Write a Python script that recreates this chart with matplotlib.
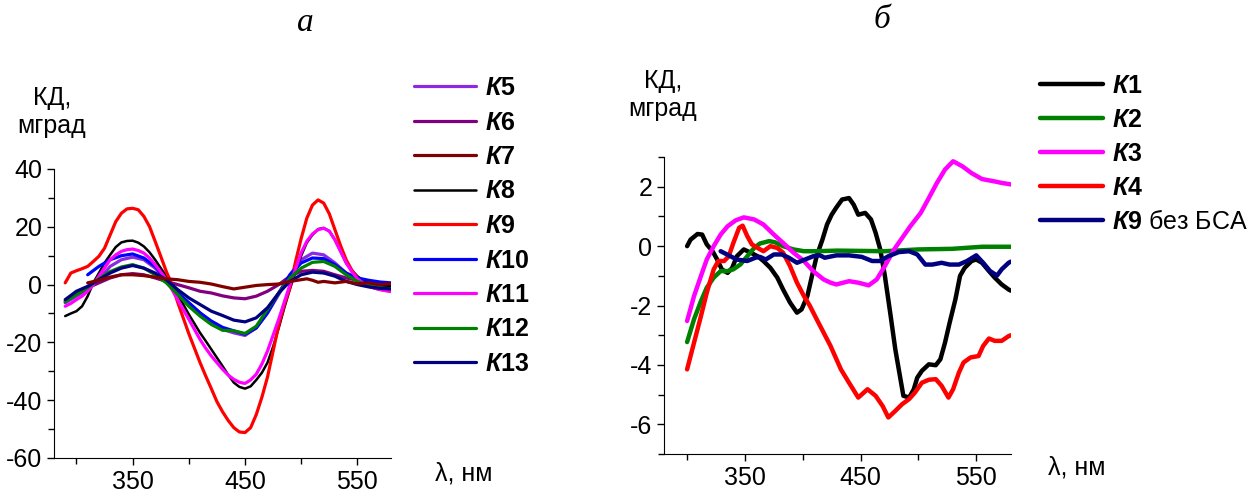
import matplotlib
matplotlib.use('Agg')
import matplotlib.pyplot as plt
from matplotlib.ticker import MultipleLocator, FixedLocator

plt.rcParams['font.family'] = ['Liberation Sans', 'DejaVu Sans']
plt.rcParams['axes.unicode_minus'] = False
plt.rcParams['mathtext.fontset'] = 'custom'
plt.rcParams['mathtext.rm'] = 'Liberation Sans'
plt.rcParams['mathtext.bf'] = 'Liberation Sans:bold'
plt.rcParams['mathtext.it'] = 'Liberation Sans:italic'
plt.rcParams['mathtext.bfit'] = 'Liberation Sans:italic:bold'

# ---- panel a ----
# big curves read every 5 nm, 290..580 (59 points, 11 per row)
wl_5 = list(range(290, 585, 5))
k9 = [0.6, 4, 4.8, 5.5, 6.3, 8, 9.8, 12.6, 17.2, 21.8, 24.7,
      26.2, 26.4, 25.9, 23.6, 20.1, 15, 9.8, 4.5, 0, -6, -11.5,
      -17, -22, -27, -31.6, -36, -40.5, -44, -47, -49.5, -51, -51.2,
      -49.5, -45, -39, -32, -23, -14, -7, -1, 8, 16, 23,
      27.5, 29.3, 28.2, 24.5, 19, 13.5, 8.6, 5, 2.3, 0.6, -0.6,
      -1.2, -1.7, -2, -2.3]
k8 = [-10.9, -10, -9.2, -7.5, -4, 0.6, 4, 7.5, 10.3, 13, 14.6,
      15.1, 15.2, 14.5, 13.2, 11.2, 8.6, 5.7, 2.9, -0.3, -3.4, -6.8,
      -10.3, -13.5, -16.7, -19.5, -22.4, -25.3, -28.2, -31.2, -33.9, -35.4, -36,
      -35.2, -33, -30.5, -27, -21.5, -15, -8, -1.5, 4.5, 10, 14.5,
      17.2, 19.2, 19.6, 18.5, 15.5, 11.5, 7.5, 5, 2.9, 1.5, 0.6,
      0, -0.3, -0.5, -0.6]
k11 = [-7.5, -6.5, -5.2, -4, -2.3, 0, 2.9, 5.8, 8.6, 10.3, 11.5,
       12.1, 12.3, 11.8, 10.9, 9.2, 6.9, 4.4, 1.7, -1.7, -5.2, -8.6,
       -12, -15.5, -19, -22, -24.7, -27, -29.3, -31.3, -32.8, -33.8, -34.2,
       -33, -31, -27.5, -23, -17.5, -12, -6, 0, 5.5, 11, 15,
       17.5, 19, 19.5, 18.5, 15.5, 11.5, 7.5, 4.5, 2, 0.5, -0.5,
       -1.2, -1.7, -2.1, -2.4]
# smaller curves every 10 nm, 290..580
wl_a = list(range(290, 590, 10))
k5 = [-6.3, -4, -1.7, 1.7, 6.3, 8.6, 9.5, 8.6, 5.7, 1.7, -2.9, -6.3, -9.8, -13.2, -15.5, -16.7,
      -17.6, -15, -9.8, -3.4, 3.4, 8.6, 10.9, 10.3, 7.5, 4, 1.7, 0, -1.1, -1.7]
k6 = [-5.7, -3.4, -1.1, 0.6, 2.3, 3.4, 3.8, 3.4, 2.3, 1.1, 0, -1.1, -2.3, -2.9, -3.9, -4.6, -4.9,
      -4, -2.3, 0, 2.9, 4.6, 4.9, 4.6, 3.4, 2.3, 1.5, 0.8, 0.3, 0]
k12 = [-6, -3.5, -1, 2, 4.5, 6.1, 6.9, 5.7, 3.4, 0.6, -3.4, -7.5, -10.9, -13.8, -15.8, -16,
       -16.9, -14.4, -8.6, -2.9, 2.3, 5.7, 7.7, 8, 6.3, 3.4, 1.1, -0.3, -1.1, -1.5]
k13 = [-5.2, -2.3, -0.6, 1.7, 4, 5.7, 6.6, 5.7, 4, 1.7, -1.7, -4.6, -6.9, -9.2, -10.7, -12.3,
       -12.9, -11.5, -8, -2.9, 1.1, 3.4, 4.3, 4, 2.9, 1.1, 0, -0.8, -1.3, -1.5]
# K10 and K7 start at 310 nm
wl_k10 = list(range(310, 590, 10))
k10 = [3.4, 6.3, 8.6, 10, 10.6, 9.2, 6.3, 1.7, -2.9, -6.3, -9.8, -12.6, -14.8, -16, -17.2, -15,
       -9.8, -2.9, 3.4, 7.5, 9.2, 9, 6.9, 4, 2.3, 1.5, 0.9, 0.6]
wl_k7 = [310, 320, 330, 340, 350, 360, 370, 380, 390, 400, 410, 420, 430, 440, 445, 450, 460, 470,
         480, 490, 500, 505, 510, 515, 520, 530, 540, 550, 560, 570, 580]
k7 = [0.6, 1.5, 2.6, 3.4, 3.4, 3.1, 2.6, 2, 1.7, 1.1, 0.8, 0.2, -0.7, -1.5, -1.2, -0.9, -0.3, 0,
      0.2, 1.1, 1.7, 2, 1.5, 0.8, 1.1, 0.6, 1.1, 0.3, 0.6, 0, 0.3]

# ---- panel b ----
wl_k1 = [300, 303, 309, 313, 317, 322, 326, 330, 335, 339, 343, 349, 355, 361, 366, 372, 378, 383,
         389, 395, 399, 404, 408, 412, 417, 421, 425, 429, 434, 440, 444, 448, 454, 459, 463, 467,
         471, 476, 480, 484, 487, 492, 496, 499, 503, 509, 515, 519, 523, 527, 532, 536, 540, 546,
         550, 555, 561, 566, 572, 578, 580]
k1 = [0, 0.22, 0.41, 0.39, 0.06, -0.17, -0.45, -0.78, -0.9, -0.73, -0.34, -0.11, -0.22, -0.34,
      -0.5, -0.73, -1.06, -1.46, -1.9, -2.24, -2.13, -1.68, -1.0, -0.34, 0.22, 0.73, 1.06, 1.3,
      1.57, 1.62, 1.4, 1.06, 1.12, 0.9, 0.45, -0.11, -1.0, -2.35, -3.47, -4.37, -5.04, -5.1,
      -4.82, -4.43, -4.2, -3.98, -4.01, -3.81, -3.25, -2.58, -1.79, -1.0, -0.73, -0.5, -0.45,
      -0.56, -0.84, -1.06, -1.29, -1.46, -1.5]
wl_k2 = [300, 306, 312, 317, 323, 329, 335, 340, 346, 352, 358, 363, 371, 376, 383, 392, 401, 412,
         430, 471, 500, 529, 555, 580]
k2 = [-3.23, -2.46, -1.85, -1.4, -1.06, -0.84, -0.84, -0.78, -0.62, -0.34, -0.06, 0.09, 0.17,
      0.13, 0.0, -0.11, -0.17, -0.17, -0.15, -0.17, -0.11, -0.09, -0.02, -0.02]
wl_k3 = [300, 306, 312, 317, 323, 329, 335, 342, 349, 358, 366, 375, 383, 392, 401, 409, 418, 424,
         429, 440, 448, 457, 464, 471, 479, 486, 493, 502, 509, 516, 523, 530, 538, 546, 555, 566,
         572, 580]
k3 = [-2.52, -1.68, -1.0, -0.45, 0.0, 0.39, 0.67, 0.87, 0.97, 0.9, 0.73, 0.39, 0.11, -0.22, -0.5,
      -0.84, -1.12, -1.23, -1.29, -1.18, -1.23, -1.32, -1.12, -0.67, -0.11, 0.28, 0.67, 1.12,
      1.62, 2.13, 2.58, 2.86, 2.69, 2.46, 2.26, 2.18, 2.13, 2.08]
wl_k4 = [300, 306, 312, 317, 323, 327, 332, 336, 340, 345, 348, 352, 356, 361, 366, 372, 378, 383,
         389, 395, 401, 406, 412, 418, 424, 429, 433, 440, 448, 456, 463, 469, 474, 480, 486, 492,
         497, 503, 509, 515, 520, 526, 530, 535, 539, 545, 552, 556, 561, 566, 572, 578, 580]
k4 = [-4.15, -3.25, -2.35, -1.57, -0.78, -0.5, -0.5, -0.34, 0.11, 0.62, 0.69, 0.34, 0.06, -0.06,
      -0.17, 0.0, -0.06, -0.22, -0.67, -1.23, -1.68, -2.0, -2.46, -2.91, -3.36, -3.8, -4.15, -4.6,
      -5.1, -4.82, -5.04, -5.38, -5.77, -5.55, -5.32, -5.15, -4.93, -4.6, -4.5, -4.48, -4.7,
      -5.1, -4.82, -4.26, -3.92, -3.75, -3.7, -3.36, -3.11, -3.19, -3.19, -3.03, -3.0]
wl_k9b = [329, 336, 343, 352, 359, 363, 368, 375, 382, 388, 395, 402, 409, 415, 419, 429, 440, 451,
          460, 467, 474, 483, 492, 499, 506, 512, 520, 527, 535, 542, 550, 556, 562, 568, 572, 578,
          580]
k9b = [-0.17, -0.31, -0.45, -0.5, -0.39, -0.36, -0.45, -0.28, -0.28, -0.39, -0.56, -0.45, -0.34,
       -0.31, -0.39, -0.31, -0.31, -0.36, -0.5, -0.5, -0.34, -0.2, -0.17, -0.28, -0.62, -0.62,
       -0.56, -0.62, -0.62, -0.5, -0.31, -0.56, -0.84, -0.99, -0.78, -0.56, -0.52]


def lab(num, extra=''):
    return r'$\mathbfit{К}\mathbf{' + num + '}$' + extra


fig = plt.figure(figsize=(12.58, 4.94), dpi=100)
ax1 = fig.add_axes([0.0429, 0.0729, 0.268, 0.585])
ax2 = fig.add_axes([0.5278, 0.081, 0.2758, 0.601])

lw = 2.3
kw = dict(solid_joinstyle='round', solid_capstyle='round')
h5, = ax1.plot(wl_a, k5, color='#8a2be2', lw=lw, label=lab('5'), **kw)
h6, = ax1.plot(wl_a, k6, color='#800080', lw=lw, label=lab('6'), **kw)
h8, = ax1.plot(wl_5, k8, color='black', lw=1.8, label=lab('8'), **kw)
h9, = ax1.plot(wl_5, k9, color='#ff0000', lw=lw, label=lab('9'), **kw)
h10, = ax1.plot(wl_k10, k10, color='#0000ff', lw=lw, label=lab('10'), **kw)
h11, = ax1.plot(wl_5, k11, color='#ff00ff', lw=lw, label=lab('11'), **kw)
h12, = ax1.plot(wl_a, k12, color='#008000', lw=lw, label=lab('12'), **kw)
h13, = ax1.plot(wl_a, k13, color='#000080', lw=lw, label=lab('13'), **kw)
h7, = ax1.plot(wl_k7, k7, color='#800000', lw=lw, label=lab('7'), **kw)
handles_a = [h5, h6, h7, h8, h9, h10, h11, h12, h13]

lw2 = 3.2
g1, = ax2.plot(wl_k1, k1, color='black', lw=lw2, label=lab('1'), **kw)
g2, = ax2.plot(wl_k2, k2, color='#008000', lw=lw2, label=lab('2'), **kw)
g3, = ax2.plot(wl_k3, k3, color='#ff00ff', lw=lw2, label=lab('3'), **kw)
g4, = ax2.plot(wl_k4, k4, color='#ff0000', lw=lw2, label=lab('4'), **kw)
g9, = ax2.plot(wl_k9b, k9b, color='#000080', lw=lw2, label=lab('9', ' без БСА'), **kw)
handles_b = [g1, g2, g3, g4, g9]

for ax in (ax1, ax2):
    ax.set_xlim(280, 580)
    ax.spines['top'].set_visible(False)
    ax.spines['right'].set_visible(False)
    ax.xaxis.set_major_locator(FixedLocator([350, 450, 550]))
    ax.xaxis.set_minor_locator(FixedLocator([300, 400, 500]))
    ax.tick_params(which='both', direction='out', labelsize=18, width=1)
    ax.tick_params(which='major', length=5)
    ax.tick_params(which='minor', length=4)

ax1.set_ylim(-60, 40)
ax1.yaxis.set_major_locator(MultipleLocator(20))
ax1.yaxis.set_minor_locator(MultipleLocator(10))
ax2.set_ylim(-7, 3)
ax2.yaxis.set_major_locator(MultipleLocator(2))
ax2.yaxis.set_minor_locator(FixedLocator([-7, -5, -3, -1, 1, 3]))

leg_kw = dict(frameon=False, fontsize=18, handlelength=2.5, handletextpad=0.36,
              borderaxespad=0, borderpad=0)
fig.legend(handles=handles_a, loc='upper left', bbox_to_anchor=(414 / 1258, 1 - 76 / 494),
           labelspacing=0.42, **leg_kw)
fig.legend(handles=handles_b, loc='upper left', bbox_to_anchor=(1040 / 1258, 1 - 74 / 494),
           labelspacing=0.4, **leg_kw)

fig.text(305 / 1258, 1 - 23 / 494, 'а', family='Liberation Serif', style='italic',
         fontsize=24, ha='center', va='center')
fig.text(882 / 1258, 1 - 20 / 494, 'б', family='Liberation Serif', style='italic',
         fontsize=24, ha='center', va='center')
fig.text(52 / 1258, 1 - 112 / 494, 'КД,\nмград', fontsize=18, ha='center', va='center',
         multialignment='center')
fig.text(663 / 1258, 1 - 95 / 494, 'КД,\nмград', fontsize=18, ha='center', va='center',
         multialignment='center')
fig.text(435 / 1258, 1 - 473 / 494, 'λ, нм', fontsize=18, ha='left', va='center')
fig.text(1048 / 1258, 1 - 467 / 494, 'λ, нм', fontsize=18, ha='left', va='center')

fig.savefig('out.png', dpi=100)
